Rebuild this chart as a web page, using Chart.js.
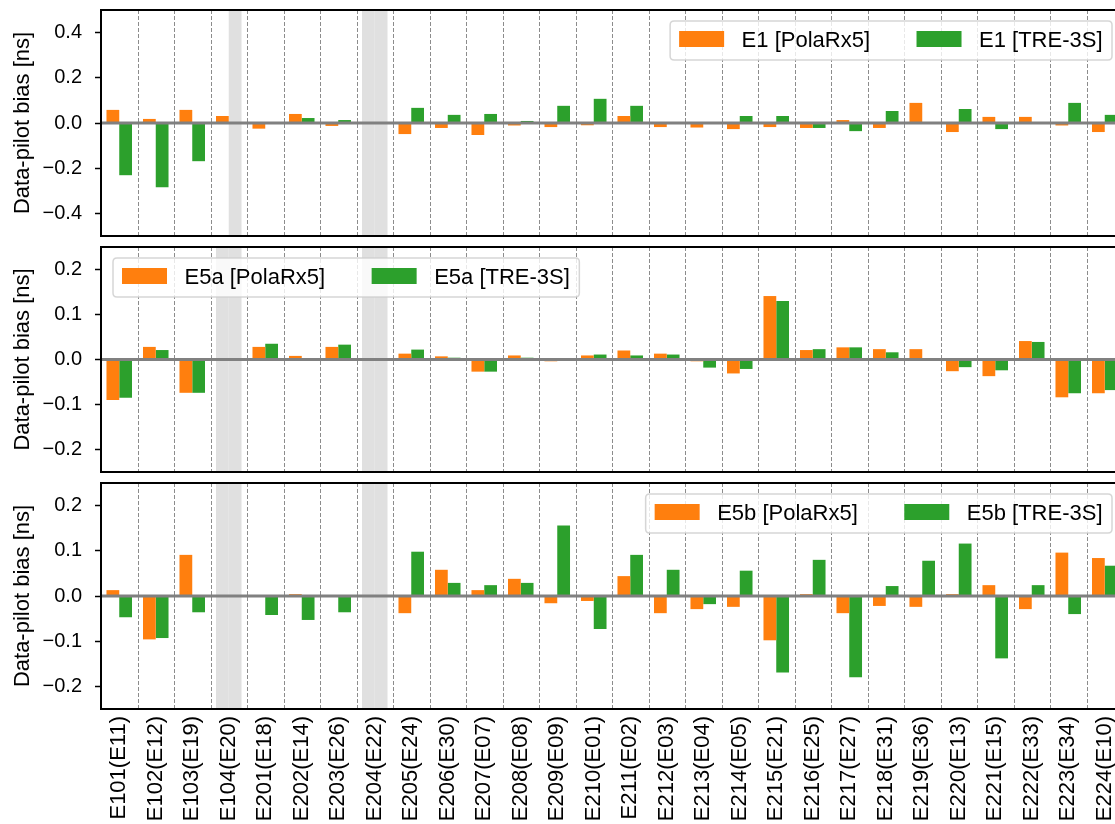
<!DOCTYPE html>
<html><head><meta charset="utf-8">
<script src="https://cdn.jsdelivr.net/npm/chart.js@4.4.1/dist/chart.umd.min.js"></script>
<style>
html,body{margin:0;padding:0;background:#fff;overflow:hidden;width:1115px;height:824px;}
.p{position:absolute;left:0;width:1125px;}
canvas{display:block;}
</style></head><body>
<div class="p" style="top:0;height:246px"><canvas id="c1" width="1125" height="246"></canvas></div>
<div class="p" style="top:237px;height:245px"><canvas id="c2" width="1125" height="245"></canvas></div>
<div class="p" style="top:473px;height:351px"><canvas id="c3" width="1125" height="351"></canvas></div>
<script>
const categories = ['E101(E11)','E102(E12)','E103(E19)','E104(E20)','E201(E18)','E202(E14)','E203(E26)','E204(E22)','E205(E24)','E206(E30)','E207(E07)','E208(E08)','E209(E09)','E210(E01)','E211(E02)','E212(E03)','E213(E04)','E214(E05)','E215(E21)','E216(E25)','E217(E27)','E218(E31)','E219(E36)','E220(E13)','E221(E15)','E222(E33)','E223(E34)','E224(E10)'];

const e1Polarx = [0.058, 0.018, 0.058, 0.031, -0.025, 0.040, -0.013, null, -0.049, -0.022, -0.053, -0.011, -0.018, -0.010, 0.031, -0.018, -0.020, -0.027, -0.018, -0.022, 0.013, -0.022, 0.089, -0.040, 0.027, 0.027, -0.011, -0.040];
const e1Tre = [-0.231, -0.284, -0.169, null, 0.0, 0.022, 0.013, null, 0.067, 0.036, 0.040, 0.009, 0.076, 0.107, 0.076, 0.0, 0.0, 0.031, 0.031, -0.022, -0.036, 0.053, 0.0, 0.062, -0.027, 0.0, 0.089, 0.036];

const e5aPolarx = [-0.090, 0.028, -0.074, null, 0.028, 0.008, 0.028, null, 0.013, 0.007, -0.027, 0.009, -0.004, 0.009, 0.020, 0.013, -0.004, -0.031, 0.141, 0.021, 0.027, 0.023, 0.023, -0.026, -0.037, 0.041, -0.084, -0.075];
const e5aTre = [-0.085, 0.021, -0.074, null, 0.035, 0.0, 0.033, null, 0.022, 0.004, -0.027, 0.004, 0.0, 0.011, 0.009, 0.011, -0.018, -0.021, 0.130, 0.023, 0.027, 0.016, 0.0, -0.017, -0.024, 0.039, -0.075, -0.068];

const e5bPolarx = [0.013, -0.096, 0.091, null, 0.0, 0.004, 0.0, null, -0.038, 0.058, 0.013, 0.038, -0.016, -0.011, 0.044, -0.038, -0.029, -0.024, -0.098, 0.004, -0.038, -0.022, -0.024, 0.004, 0.024, -0.029, 0.096, 0.084];
const e5bTre = [-0.047, -0.093, -0.036, null, -0.042, -0.053, -0.036, null, 0.098, 0.029, 0.024, 0.029, 0.156, -0.073, 0.091, 0.058, -0.018, 0.056, -0.169, 0.080, -0.180, 0.022, 0.078, 0.116, -0.138, 0.024, -0.040, 0.067];

const yTicksE1 = [-0.4, -0.2, 0.0, 0.2, 0.4];
const yRangeE1 = [-0.5, 0.5];
const yTicksE5 = [-0.2, -0.1, 0.0, 0.1, 0.2];
const yRangeE5 = [-0.25, 0.25];

const FONT = "'Liberation Sans', Arial, Helvetica, sans-serif";
const ORANGE = '#ff7f0e';
const GREEN = '#2ca02c';
const BAR_FRAC = 0.35;

function fmt(v){
  const s = Math.abs(v).toFixed(1);
  return (v < -1e-9 ? '\u2212' : '') + s;
}

function roundRect(ctx, x, y, w, h, r){
  ctx.beginPath();
  ctx.moveTo(x + r, y);
  ctx.lineTo(x + w - r, y);
  ctx.quadraticCurveTo(x + w, y, x + w, y + r);
  ctx.lineTo(x + w, y + h - r);
  ctx.quadraticCurveTo(x + w, y + h, x + w - r, y + h);
  ctx.lineTo(x + r, y + h);
  ctx.quadraticCurveTo(x, y + h, x, y + h - r);
  ctx.lineTo(x, y + r);
  ctx.quadraticCurveTo(x, y, x + r, y);
  ctx.closePath();
}

const decor = {
  id: 'decor',
  beforeDatasetsDraw(chart) {
    const {ctx, chartArea: a, scales: {x}} = chart;
    const n = chart.data.labels.length;
    const step = x.getPixelForValue(1) - x.getPixelForValue(0);
    const bw = step * BAR_FRAC;
    ctx.save();
    ctx.fillStyle = '#e0e0e0';
    chart.data.datasets.forEach((ds, di) => {
      ds.data.forEach((v, i) => {
        if (v === null) {
          const cx = x.getPixelForValue(i);
          const x0 = di === 0 ? cx - bw : cx;
          ctx.fillRect(x0, a.top, bw, a.bottom - a.top);
        }
      });
    });
    ctx.beginPath();
    ctx.setLineDash([4, 2]);
    ctx.strokeStyle = 'rgba(128,128,128,0.9)';
    ctx.lineWidth = 1;
    for (let i = 0; i < n - 1; i++) {
      const px = Math.round((x.getPixelForValue(i) + x.getPixelForValue(i + 1)) / 2) + 0.5;
      ctx.moveTo(px, a.top);
      ctx.lineTo(px, a.bottom);
    }
    ctx.stroke();
    ctx.restore();
  },
  afterDatasetsDraw(chart) {
    const {ctx, chartArea: a, scales: {y}} = chart;
    const y0 = y.getPixelForValue(0);
    ctx.save();
    ctx.strokeStyle = '#808080';
    ctx.lineWidth = 3;
    ctx.beginPath();
    ctx.moveTo(a.left, y0);
    ctx.lineTo(a.right, y0);
    ctx.stroke();
    ctx.restore();
  },
  afterDraw(chart, args, opts) {
    const {ctx, chartArea: a} = chart;
    ctx.save();
    ctx.font = '22px ' + FONT;
    const ds = chart.data.datasets;
    const pad = 9, patchW = 45, patchH = 16, gap = 17.5, colGap = 46.5, padR = 9.5, boxH = 39, off = 11;
    const tw = ds.map(d => ctx.measureText(d.label).width);
    const boxW = pad + patchW + gap + tw[0] + colGap + patchW + gap + tw[1] + padR;
    const bx = opts.side === 'left' ? a.left + 12 : a.right - 11 - boxW;
    const by = a.top + off;
    roundRect(ctx, bx, by, boxW, boxH, 4);
    ctx.fillStyle = 'rgba(255,255,255,0.8)';
    ctx.fill();
    ctx.strokeStyle = 'rgba(204,204,204,0.8)';
    ctx.lineWidth = 1.5;
    ctx.stroke();
    let cx = bx + pad;
    ds.forEach((d, i) => {
      ctx.fillStyle = d.backgroundColor;
      ctx.fillRect(cx, by + 10, patchW, patchH);
      cx += patchW + gap;
      ctx.fillStyle = '#000';
      ctx.textBaseline = 'middle';
      ctx.textAlign = 'left';
      ctx.fillText(d.label, cx, by + 19.5);
      cx += tw[i] + colGap;
    });
    ctx.strokeStyle = '#000';
    ctx.lineWidth = 2;
    ctx.strokeRect(a.left, a.top, a.right - a.left, a.bottom - a.top);
    ctx.restore();
  }
};

function noPad(s) { s.paddingTop = 0; s.paddingBottom = 0; s.paddingLeft = 0; s.paddingRight = 0; }

function makeChart(id, a, b, names, ticksArr, range, side, showX, padTop, padBottom, xHeight) {
  return new Chart(document.getElementById(id), {
    type: 'bar',
    data: {
      labels: categories,
      datasets: [
        {label: names[0], data: a, backgroundColor: ORANGE, borderWidth: 0, categoryPercentage: 0.7, barPercentage: 1.0},
        {label: names[1], data: b, backgroundColor: GREEN, borderWidth: 0, categoryPercentage: 0.7, barPercentage: 1.0}
      ]
    },
    options: {
      responsive: false,
      animation: false,
      events: [],
      layout: {padding: {top: padTop, bottom: padBottom, left: 0, right: 2}},
      plugins: {legend: {display: false}, tooltip: {enabled: false}, decor: {side: side}},
      scales: {
        x: {
          display: showX,
          offset: true,
          grid: {display: false, drawTicks: false},
          border: {display: false},
          ticks: {autoSkip: false, maxRotation: 90, minRotation: 90, padding: 7, color: '#000', font: {family: FONT, size: 22}},
          afterFit: s => { s.height = xHeight; noPad(s); }
        },
        y: {
          min: range[0],
          max: range[1],
          afterBuildTicks: s => { s.ticks = ticksArr.map(v => ({value: v})); },
          afterFit: s => { s.width = 101; noPad(s); },
          grid: {drawOnChartArea: false, drawTicks: true, tickLength: 6, tickWidth: 1.5, tickColor: '#000'},
          border: {display: false},
          ticks: {padding: 13, color: '#000', font: {family: FONT, size: 20}, callback: v => fmt(v)},
          title: {display: true, text: 'Data-pilot bias [ns]', color: '#000', font: {family: FONT, size: 22}, padding: {top: 10, bottom: 0}}
        }
      }
    },
    plugins: [decor]
  });
}

makeChart('c1', e1Polarx, e1Tre, ['E1 [PolaRx5]', 'E1 [TRE-3S]'], yTicksE1, yRangeE1, 'right', false, 10, 10, 0);
makeChart('c2', e5aPolarx, e5aTre, ['E5a [PolaRx5]', 'E5a [TRE-3S]'], yTicksE5, yRangeE5, 'left', false, 10, 10, 0);
makeChart('c3', e5bPolarx, e5bTre, ['E5b [PolaRx5]', 'E5b [TRE-3S]'], yTicksE5, yRangeE5, 'right', true, 10, 0, 115);
</script>
</body></html>
